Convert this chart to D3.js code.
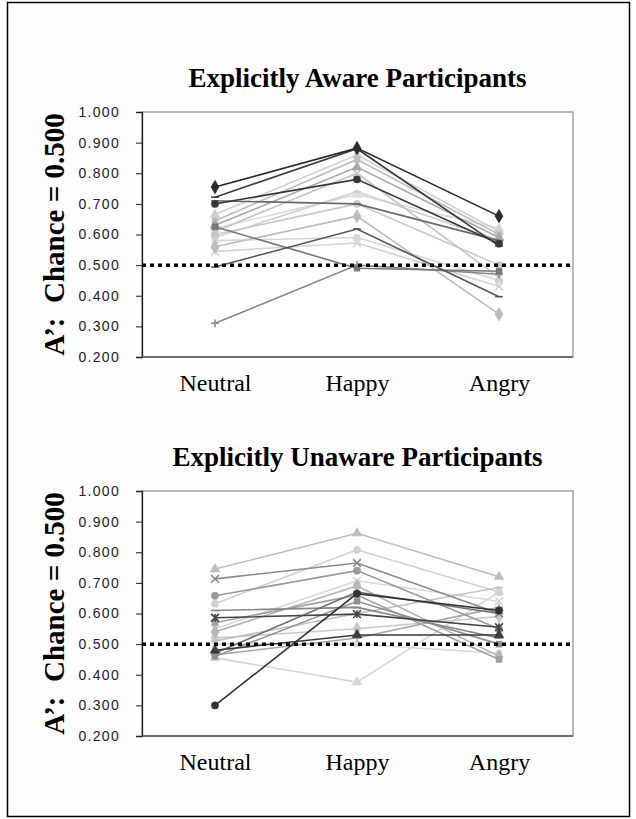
<!DOCTYPE html>
<meta charset="utf-8">
<script src="https://d3js.org/d3.v7.min.js"></script>
<style>
  body { margin: 0; background: #fff; }
</style>
<div id="chart"></div>
<script>

// categories and axis ticks
var categories = ["Neutral", "Happy", "Angry"];
var yTicks = [0.2, 0.3, 0.4, 0.5, 0.6, 0.7, 0.8, 0.9, 1.0];
var chance = 0.5;

// explicitly aware participants: [neutral, happy, angry]
var awareValues = [
  [0.755, 0.882, 0.660],
  [0.722, 0.880, 0.563],
  [0.700, 0.780, 0.570],
  [0.710, 0.700, 0.580],
  [0.665, 0.860, 0.610],
  [0.645, 0.845, 0.600],
  [0.630, 0.820, 0.590],
  [0.625, 0.490, 0.480],
  [0.610, 0.800, 0.460],
  [0.590, 0.740, 0.580],
  [0.600, 0.700, 0.500],
  [0.560, 0.660, 0.340],
  [0.580, 0.590, 0.450],
  [0.545, 0.572, 0.430],
  [0.494, 0.618, 0.397],
  [0.310, 0.500, 0.470],
  [0.620, 0.730, 0.620]
];
var awareShades = ["#2a2a2a", "#3c3c3c", "#383838", "#6a6a6a", "#cfcfcf", "#bdbdbd", "#a8a8a8", "#777777",
  "#c4c4c4", "#d0d0d0", "#c8c8c8", "#bbbbbb", "#d6d6d6", "#d2d2d2", "#555555", "#888888", "#dddddd"];
var awareMarkers = ["diamond", "dash", "circle", "dash", "triangle", "square", "triangle", "square",
  "x", "dash", "circle", "diamond", "square", "x", "dash", "plus", "triangle"];

// explicitly unaware participants: [neutral, happy, angry]
var unawareValues = [
  [0.745, 0.862, 0.720],
  [0.713, 0.765, 0.600],
  [0.632, 0.808, 0.670],
  [0.658, 0.740, 0.550],
  [0.300, 0.665, 0.610],
  [0.586, 0.598, 0.555],
  [0.480, 0.530, 0.530],
  [0.455, 0.376, 0.670],
  [0.610, 0.620, 0.520],
  [0.550, 0.707, 0.640],
  [0.570, 0.660, 0.450],
  [0.520, 0.550, 0.590],
  [0.500, 0.500, 0.470],
  [0.470, 0.670, 0.600],
  [0.460, 0.640, 0.500],
  [0.540, 0.690, 0.460],
  [0.510, 0.600, 0.685],
  [0.465, 0.520, 0.620]
];
var unawareShades = ["#bcbcbc", "#8a8a8a", "#d0d0d0", "#999999", "#333333", "#444444", "#3a3a3a", "#d4d4d4",
  "#888888", "#d8d8d8", "#a0a0a0", "#c8c8c8", "#dadada", "#707070", "#909090", "#b5b5b5", "#c0c0c0", "#a8a8a8"];
var unawareMarkers = ["triangle", "x", "circle", "circle", "circle", "star", "triangle", "triangle",
  "dash", "x", "square", "diamond", "square", "dash", "square", "diamond", "dash", "plus"];

var W = 636, H = 819;

var svg = d3.select("#chart").append("svg")
  .attr("width", W)
  .attr("height", H);

svg.append("rect")
  .attr("x", 7.5).attr("y", 2.5)
  .attr("width", 622).attr("height", 814)
  .attr("fill", "#fdfdfd")
  .attr("stroke", "#000")
  .attr("stroke-width", 1.5);

// custom marker shapes
var symX = { draw: function(c, s) { var r = Math.sqrt(s) / 2; c.moveTo(-r, -r); c.lineTo(r, r); c.moveTo(-r, r); c.lineTo(r, -r); } };
var symPlus = { draw: function(c, s) { var r = Math.sqrt(s) / 2; c.moveTo(-r, 0); c.lineTo(r, 0); c.moveTo(0, -r); c.lineTo(0, r); } };
var symDash = { draw: function(c, s) { var r = Math.sqrt(s) / 2; c.moveTo(-r, 0); c.lineTo(r, 0); } };
var symStar = { draw: function(c, s) { var r = Math.sqrt(s) / 2; c.moveTo(-r, -r); c.lineTo(r, r); c.moveTo(-r, r); c.lineTo(r, -r); c.moveTo(0, -r); c.lineTo(0, r); } };
var symbols = {
  diamond: [d3.symbolDiamond, 55, true],
  square: [d3.symbolSquare, 36, true],
  triangle: [d3.symbolTriangle, 42, true],
  circle: [d3.symbolCircle, 42, true],
  x: [symX, 60, false],
  plus: [symPlus, 60, false],
  dash: [symDash, 60, false],
  star: [symStar, 60, false]
};

function panel(top, title, values, shades, markers) {
  var left = 142, right = 573, height = 245;

  var g = svg.append("g");

  var x = d3.scalePoint()
    .domain(categories)
    .range([left + 2, right - 3])
    .padding(0.5);

  var y = d3.scaleLinear()
    .domain([0.2, 1.0])
    .range([top + height, top]);

  // plot area frame
  g.append("rect")
    .attr("x", left).attr("y", top)
    .attr("width", right - left).attr("height", height)
    .attr("fill", "#fff")
    .attr("stroke", "#8c8c8c")
    .attr("stroke-width", 1.2);

  // y axis
  var yAxis = g.append("g")
    .attr("transform", "translate(" + left + ",0)")
    .call(d3.axisLeft(y).tickValues(yTicks).tickSize(6).tickPadding(16).tickFormat(d3.format(".3f")));
  yAxis.select(".domain").attr("stroke", "#222").attr("stroke-width", 1.3);
  yAxis.selectAll(".tick line").attr("stroke", "#222");
  yAxis.selectAll(".tick text")
    .attr("fill", "#222")
    .style("font-family", "'Liberation Sans', Arial, sans-serif")
    .style("font-size", "14px")
    .style("letter-spacing", "1.3px");

  // x axis
  var xAxis = g.append("g")
    .attr("transform", "translate(0," + (top + height) + ")")
    .call(d3.axisBottom(x).tickSize(0).tickPadding(17));
  xAxis.select(".domain").attr("stroke", "#555").attr("stroke-width", 1.3)
    .attr("d", "M" + left + ",0H" + right);
  xAxis.selectAll(".tick text")
    .attr("fill", "#000")
    .style("font-family", "'Liberation Serif', 'Times New Roman', serif")
    .style("font-size", "24px");

  // lines
  var line = d3.line()
    .x(function(d, i) { return x(categories[i]); })
    .y(function(d) { return y(d); });

  var order = d3.range(values.length).sort(function(a, b) {
    return d3.color(shades[b]).r - d3.color(shades[a]).r;
  });

  order.forEach(function(k) {
    var s = g.append("g");
    s.append("path")
      .attr("d", line(values[k]))
      .attr("fill", "none")
      .attr("stroke", shades[k])
      .attr("stroke-width", 1.6);
    var m = symbols[markers[k]];
    s.selectAll("path.mk")
      .data(values[k])
      .enter().append("path")
      .attr("class", "mk")
      .attr("transform", function(d, i) { return "translate(" + x(categories[i]) + "," + y(d) + ")"; })
      .attr("d", d3.symbol().type(m[0]).size(m[1]))
      .attr("fill", m[2] ? shades[k] : "none")
      .attr("stroke", shades[k])
      .attr("stroke-width", m[2] ? 0.5 : 1.6);
  });

  // chance line
  g.append("line")
    .attr("x1", left).attr("x2", right)
    .attr("y1", y(chance)).attr("y2", y(chance))
    .attr("stroke", "#000")
    .attr("stroke-width", 3.5)
    .attr("stroke-dasharray", "4,4");

  // title
  g.append("text")
    .attr("x", (left + right) / 2)
    .attr("y", top - 25)
    .attr("text-anchor", "middle")
    .style("font-family", "'Liberation Serif', 'Times New Roman', serif")
    .style("font-weight", "bold")
    .style("font-size", "27px")
    .text(title);

  // y axis title
  g.append("text")
    .attr("transform", "translate(64," + (top + height / 2) + ") rotate(-90)")
    .attr("text-anchor", "middle")
    .style("font-family", "'Liberation Serif', 'Times New Roman', serif")
    .style("font-weight", "bold")
    .style("font-size", "29px")
    .style("white-space", "pre")
    .text("A\u2019:  Chance = 0.500");
}

panel(112, "Explicitly Aware Participants", awareValues, awareShades, awareMarkers);
panel(491, "Explicitly Unaware Participants", unawareValues, unawareShades, unawareMarkers);

</script>
